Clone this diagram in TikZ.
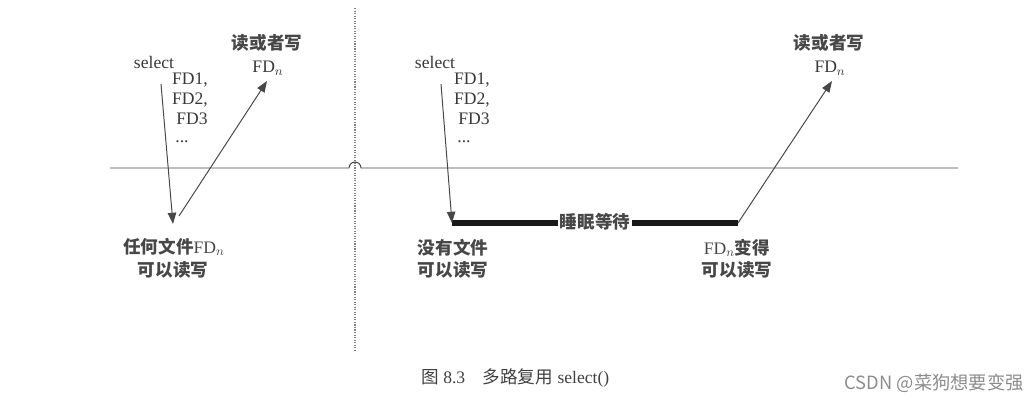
\documentclass[tikz,border=0pt]{standalone}
\usepackage{fontspec}
\setmainfont{Liberation Serif}
\newfontfamily\cjk{Noto Sans CJK SC}
\usetikzlibrary{arrows.meta}
\begin{document}
\begin{tikzpicture}[x=0.025cm,y=-0.025cm,
  lbl/.style={inner sep=0pt,text=black!78,font=\fontsize{12.5}{14}\selectfont},
  cjklbl/.style={lbl,font=\fontsize{12.5}{14}\selectfont\cjk\bfseries,text=black!72},
  thin line/.style={draw=black!72,line width=0.7pt},
  arr/.style={thin line,-{Triangle[length=8pt,width=6pt]}},
  thick line/.style={draw=black!90,line width=4.8pt}]
\useasboundingbox (0,0) rectangle (1026,406);
% divider
\draw[black!50,line width=0.8pt,densely dotted] (355,8) -- (355,350);
% time axis with hop
\coordinate (axL) at (110,168);
\coordinate (axR) at (958,168);
\draw[thin line] (axL) -- (349,168) arc[start angle=180,end angle=360,radius=6] -- (axR);
% ---------- left part ----------
\node[lbl] (selL) at (154,62) {select};
\node[lbl] (fd1L) at (190,80) {FD1,};
\node[lbl] (fd2L) at (190,100) {FD2,};
\node[lbl] (fd3L) at (192,119) {FD3};
\node[lbl] (dotL) at (182,142) {...};
\node[cjklbl] (rwL) at (267,43) {读或者写};
\node[lbl] (fdnL) at (268,68) {FD$_n$};
\node[cjklbl] (anyL) at (174,247) {任何文件{\rmfamily\mdseries FD$_n$}};
\node[cjklbl] (canL) at (173,270) {可以读写};
\coordinate (startL) at (161,84);
\coordinate (tipL) at (173,224);
\coordinate (upL) at (179,216);
\coordinate (topL) at (267,81);
\draw[arr] (startL) -- (tipL);
\draw[arr] (upL) -- (topL);
% ---------- right part ----------
\node[lbl] (selR) at (435,62) {select};
\node[lbl] (fd1R) at (472,80) {FD1,};
\node[lbl] (fd2R) at (472,100) {FD2,};
\node[lbl] (fd3R) at (474,119) {FD3};
\node[lbl] (dotR) at (464,142) {...};
\node[cjklbl] (rwR) at (829,43) {读或者写};
\node[lbl] (fdnR) at (830,68) {FD$_n$};
\node[cjklbl] (noR) at (453,248) {没有文件};
\node[cjklbl] (canR1) at (453,270) {可以读写};
\node[cjklbl] (becR) at (737,248) {{\rmfamily\mdseries FD$_n$}变得};
\node[cjklbl] (canR2) at (737,270) {可以读写};
\coordinate (startR) at (441,84);
\coordinate (tipR) at (452,223);
\coordinate (endR) at (738,223);
\coordinate (topR) at (832,81);
\draw[thick line] (tipR) -- (endR);
\node[cjklbl,fill=white,inner xsep=1pt,inner ysep=3pt] (sleep) at (595,222) {睡眠等待};
\draw[arr] (startR) -- (tipR);
\draw[arr] (endR) -- (topR);
% caption
\node[lbl,anchor=west,text=black!75] (cap) at (421,378) {{\cjk 图} 8.3\hspace{1em}{\cjk 多路复用} select()};
\node[anchor=east,inner sep=0pt,text=black!45,font=\fontsize{13}{15}\selectfont\cjk] (wm) at (1024,383) {CSDN @菜狗想要变强};
\end{tikzpicture}
\end{document}
